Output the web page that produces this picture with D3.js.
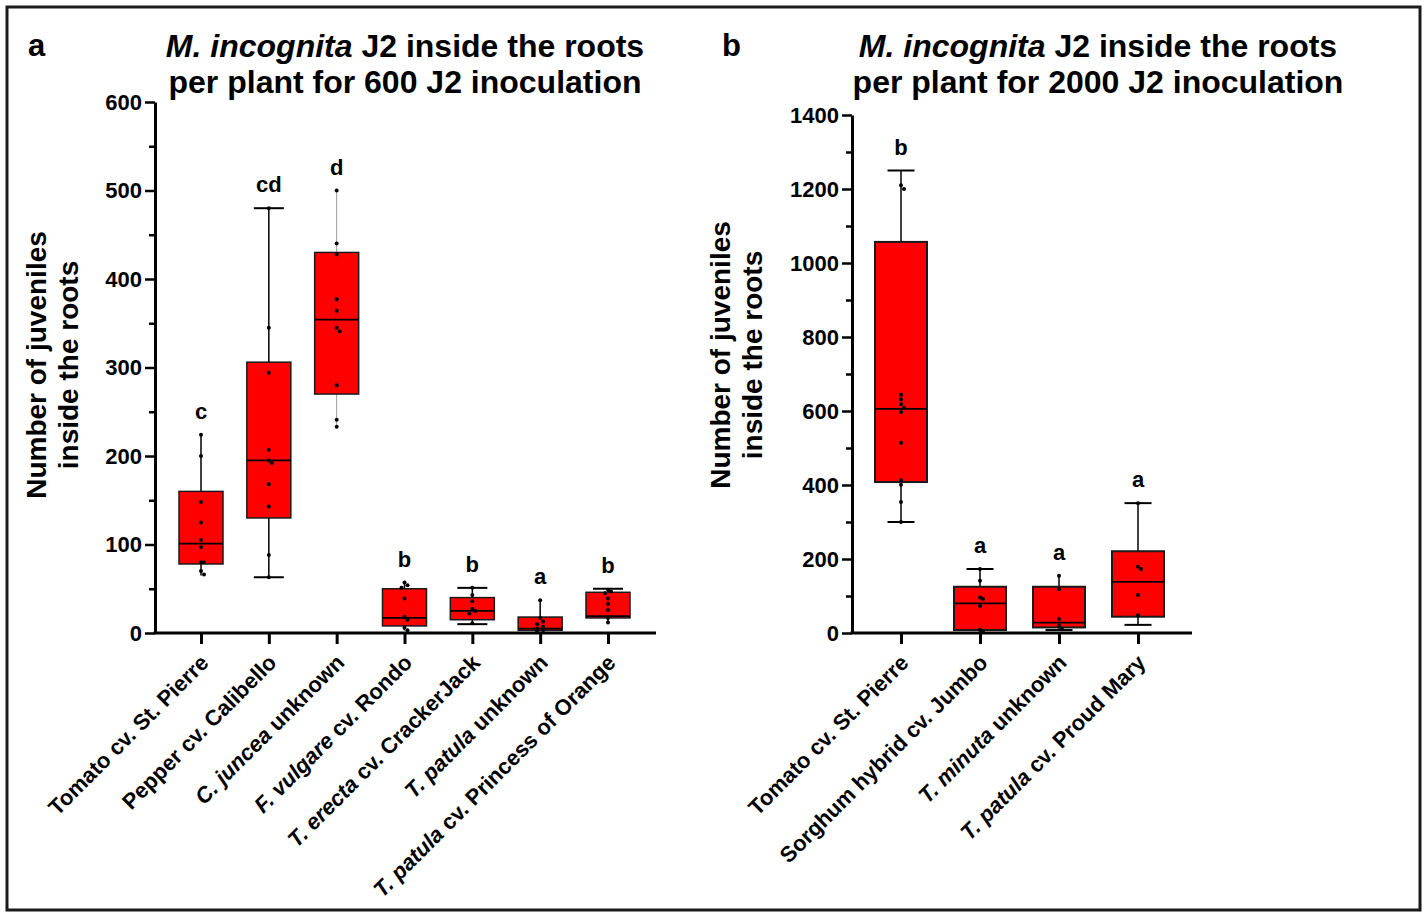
<!DOCTYPE html>
<html>
<head>
<meta charset="utf-8">
<title>M. incognita J2 inside the roots</title>
<script src="https://cdn.jsdelivr.net/npm/d3@7"></script>
<style>
  body { margin: 0; background: #fff; }
  text { font-family: "Liberation Sans", Arial, sans-serif; font-weight: bold; fill: #000; }
</style>
</head>
<body>
<script>
var w = 1427, h = 917;

// ---- panel a : 600 J2 inoculation ----
var catsA = ["Tomato cv. St. Pierre", "Pepper cv. Calibello", "C. juncea unknown", "F. vulgare cv. Rondo",
             "T. erecta cv. CrackerJack", "T. patula unknown", "T. patula cv. Princess of Orange"];
var italicA = ["", "", "C. juncea", "F. vulgare", "T. erecta", "T. patula", "T. patula"];
// min, q1, median, q3, max
var statsA = [[65, 78, 101, 160, 224],
              [63, 130, 195, 306, 480],
              [233, 270, 354, 430, 500],
              [3, 8, 17, 50, 57],
              [10, 15, 25, 40, 51],
              [2, 3, 5, 18, 37],
              [12, 17, 19, 46, 50]];
var dotsA = [[224, 200, 148, 125, 105, 97, 80, 80, 70, 66],
             [480, 345, 294, 207, 195, 192, 168, 143, 88, 63],
             [500, 440, 428, 377, 364, 345, 341, 280, 241, 233],
             [57, 54, 51, 39, 18, 15, 6, 3],
             [51, 43, 36, 27, 25, 22, 11],
             [37, 17, 13, 10, 7, 5, 3, 2],
             [49, 47, 45, 39, 33, 26, 17, 12]];
var lettersA = ["c", "cd", "d", "b", "b", "a", "b"];
var ticksA = [0, 100, 200, 300, 400, 500, 600];
var minorA = [50, 150, 250, 350, 450, 550];

// ---- panel b : 2000 J2 inoculation ----
var catsB = ["Tomato cv. St. Pierre", "Sorghum hybrid cv. Jumbo", "T. minuta unknown", "T. patula cv. Proud Mary"];
var italicB = ["", "", "T. minuta", "T. patula"];
var statsB = [[300, 408, 606, 1057, 1250],
              [3, 8, 80, 125, 173],
              [8, 15, 28, 125, 155],
              [22, 44, 138, 221, 351]];
var dotsB = [[1210, 1200, 644, 632, 618, 609, 597, 514, 413, 401, 354, 300],
             [173, 141, 96, 92, 73, 9, 3],
             [155, 118, 38, 20, 10],
             [351, 179, 173, 103, 48]];
var lettersB = ["b", "a", "a", "a"];
var ticksB = [0, 200, 400, 600, 800, 1000, 1200, 1400];
var minorB = [100, 300, 500, 700, 900, 1100, 1300];

// whisker caps drawn like the original (top, bottom)
var capsA = [[0, 0], [1, 1], [0, 0], [0, 0], [1, 1], [0, 0], [1, 0]];
var capsB = [[1, 1], [1, 0], [0, 1], [1, 1]];

var svg = d3.select('body').append('svg').attr('width', w).attr('height', h);

// outer frame
svg.append('rect').attr('x', 7).attr('y', 7).attr('width', 1413).attr('height', 903)
  .attr('fill', 'none').attr('stroke', '#1a1a1a').attr('stroke-width', 3);

function panel(o) {
  var g = svg.append('g');
  var y = d3.scaleLinear().domain([0, o.yMax]).range([633, o.yTop]);
  var x = d3.scalePoint().domain(o.cats).range(o.xRange);

  // y axis, major + minor ticks
  var ya = g.append('g').attr('transform', 'translate(' + o.x0 + ',0)')
    .call(d3.axisLeft(y).tickValues(o.ticks).tickSize(10).tickSizeOuter(0).tickPadding(3).tickFormat(d3.format('d')));
  ya.selectAll('text').attr('font-size', 22);
  ya.select('.domain').attr('stroke-width', 3);
  ya.selectAll('.tick line').attr('stroke-width', 2.5);
  var ym = g.append('g').attr('transform', 'translate(' + o.x0 + ',0)')
    .call(d3.axisLeft(y).tickValues(o.minor).tickSize(6).tickFormat(''));
  ym.select('.domain').remove();
  ym.selectAll('.tick line').attr('stroke-width', 2.5);

  // x axis
  var xa = g.append('g').attr('transform', 'translate(0,633)')
    .call(d3.axisBottom(x).tickSize(11).tickFormat(''));
  xa.select('.domain').remove();
  xa.selectAll('.tick line').attr('stroke-width', 3);
  g.append('line').attr('x1', o.x0 - 1.5).attr('x2', o.x1).attr('y1', 633).attr('y2', 633)
    .attr('stroke', '#000').attr('stroke-width', 3);

  // boxes
  o.cats.forEach(function(c, i) {
    var s = o.stats[i], cx = x(c), bw = o.bw, cw = o.cw;
    var stroke = o.grey[i] ? '#999' : '#000';
    g.append('line').attr('x1', cx).attr('x2', cx).attr('y1', y(s[4])).attr('y2', y(s[3]))
      .attr('stroke', stroke).attr('stroke-width', o.grey[i] ? 1 : 1.5);
    g.append('line').attr('x1', cx).attr('x2', cx).attr('y1', y(s[1])).attr('y2', y(s[0]))
      .attr('stroke', stroke).attr('stroke-width', o.grey[i] ? 1 : 1.5);
    if (o.caps[i][0]) g.append('line').attr('x1', cx - cw / 2).attr('x2', cx + cw / 2)
      .attr('y1', y(s[4])).attr('y2', y(s[4])).attr('stroke', '#000').attr('stroke-width', 2);
    if (o.caps[i][1]) g.append('line').attr('x1', cx - cw / 2).attr('x2', cx + cw / 2)
      .attr('y1', y(s[0])).attr('y2', y(s[0])).attr('stroke', '#000').attr('stroke-width', 2);
    g.append('rect').attr('x', cx - bw / 2).attr('y', y(s[3])).attr('width', bw)
      .attr('height', y(s[1]) - y(s[3])).attr('fill', '#ff0000')
      .attr('stroke', '#1a1a1a').attr('stroke-width', o.boxStroke);
    g.append('line').attr('x1', cx - bw / 2).attr('x2', cx + bw / 2)
      .attr('y1', y(s[2])).attr('y2', y(s[2])).attr('stroke', '#000').attr('stroke-width', 1.8);

    // points, nudged sideways when they overlap
    var vals = o.dots[i].slice().sort(d3.descending), last = -99, k = 0;
    vals.forEach(function(v) {
      var py = y(v), dx = 0;
      if (Math.abs(py - last) < 4) { k++; dx = (k % 2 ? 3 : -3); } else { k = 0; }
      last = py;
      g.append('circle').attr('cx', cx + dx).attr('cy', py).attr('r', 2).attr('fill', '#000');
    });

    g.append('text').attr('x', cx).attr('y', y(s[4]) - 16).attr('text-anchor', 'middle')
      .attr('font-size', 22).text(o.letters[i]);

    // rotated category label with italic species part
    var t = g.append('text').attr('text-anchor', 'end').attr('font-size', 22)
      .attr('transform', 'translate(' + (cx + 9) + ',664) rotate(-45)');
    var it = o.italic[i];
    if (it) {
      t.append('tspan').attr('font-style', 'italic').text(it);
      t.append('tspan').text(c.slice(it.length));
    } else {
      t.text(c);
    }
  });

  // y title
  var yt = g.append('text').attr('text-anchor', 'middle').attr('font-size', 28)
    .attr('transform', 'translate(' + o.ytX + ',' + o.ytY + ') rotate(-90)');
  yt.append('tspan').attr('x', 0).attr('dy', 0).text('Number of juveniles');
  yt.append('tspan').attr('x', 0).attr('dy', 32).text('inside the roots');

  // panel title
  var tt = g.append('text').attr('text-anchor', 'middle').attr('font-size', 32);
  var l1 = tt.append('tspan').attr('x', o.titleX).attr('y', 57);
  l1.append('tspan').attr('font-style', 'italic').text('M. incognita');
  l1.append('tspan').text(' J2 inside the roots');
  tt.append('tspan').attr('x', o.titleX).attr('y', 93).text(o.title2);

  g.append('text').attr('x', o.tagX).attr('y', 56).attr('font-size', 31).text(o.tag);
}

panel({
  cats: catsA, italic: italicA, stats: statsA, dots: dotsA, letters: lettersA,
  ticks: ticksA, minor: minorA, yMax: 600, yTop: 102, x0: 155, x1: 656, xRange: [201, 608],
  bw: 44, cw: 30, boxStroke: 1.5, caps: capsA, grey: [0, 0, 1, 0, 0, 0, 0],
  ytX: 46, ytY: 365, titleX: 405, title2: 'per plant for 600 J2 inoculation', tagX: 28, tag: 'a'
});

panel({
  cats: catsB, italic: italicB, stats: statsB, dots: dotsB, letters: lettersB,
  ticks: ticksB, minor: minorB, yMax: 1400, yTop: 115, x0: 852, x1: 1192, xRange: [901, 1138],
  bw: 52, cw: 27, boxStroke: 2, caps: capsB, grey: [0, 0, 0, 0],
  ytX: 730, ytY: 355, titleX: 1098, title2: 'per plant for 2000 J2 inoculation', tagX: 722, tag: 'b'
});
</script>
</body>
</html>
